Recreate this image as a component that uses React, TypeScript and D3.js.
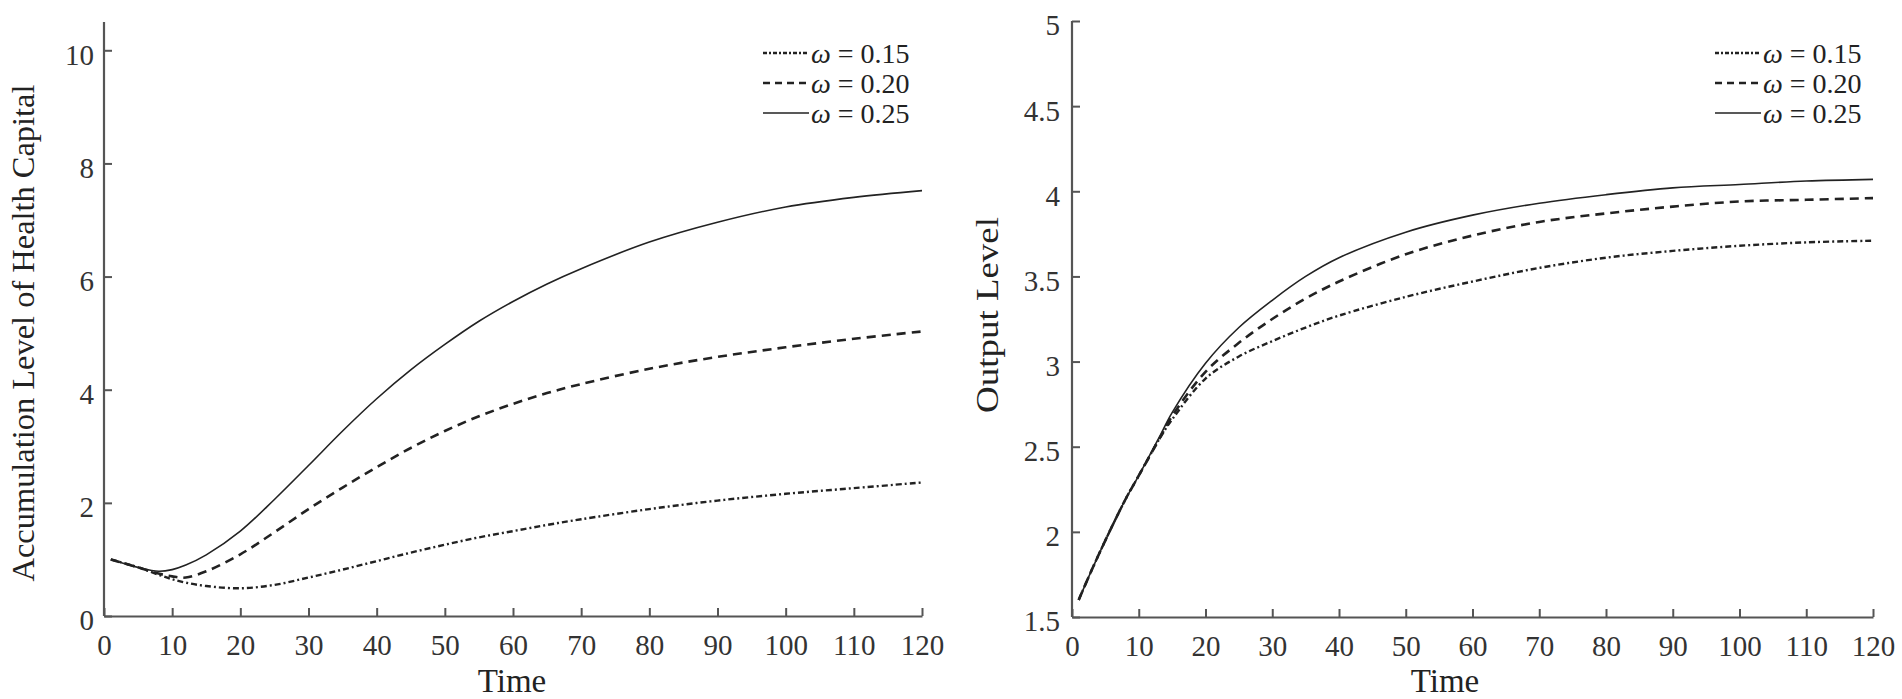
import React, { useEffect, useRef } from "react";
import * as d3 from "d3";

// left panel: accumulation level of health capital
const leftTime = [1, 5, 8, 10, 12, 15, 20, 25, 30, 35, 40, 45, 50, 55, 60, 65, 70, 80, 90, 100, 110, 120];
const leftW15 = [1.0, 0.86, 0.73, 0.65, 0.59, 0.53, 0.49, 0.55, 0.68, 0.82, 0.97, 1.12, 1.26, 1.39, 1.5, 1.61, 1.71, 1.89, 2.04, 2.16, 2.26, 2.36];
const leftW20 = [1.0, 0.86, 0.75, 0.7, 0.68, 0.79, 1.09, 1.48, 1.89, 2.27, 2.63, 2.97, 3.27, 3.53, 3.75, 3.94, 4.1, 4.37, 4.58, 4.75, 4.9, 5.03];
const leftW25 = [1.0, 0.86, 0.79, 0.82, 0.9, 1.08, 1.5, 2.06, 2.66, 3.27, 3.84, 4.35, 4.8, 5.21, 5.56, 5.87, 6.14, 6.61, 6.96, 7.23, 7.4, 7.52];

// right panel: output level
const rightTime = [1, 3, 5, 8, 10, 13, 15, 20, 25, 30, 35, 40, 50, 60, 70, 80, 90, 100, 110, 120];
const rightW15 = [1.6, 1.78, 1.95, 2.19, 2.33, 2.54, 2.66, 2.9, 3.03, 3.12, 3.2, 3.27, 3.38, 3.47, 3.55, 3.61, 3.65, 3.68, 3.7, 3.71];
const rightW20 = [1.6, 1.78, 1.95, 2.19, 2.33, 2.54, 2.68, 2.94, 3.11, 3.25, 3.37, 3.47, 3.63, 3.74, 3.82, 3.87, 3.91, 3.94, 3.95, 3.96];
const rightW25 = [1.6, 1.78, 1.95, 2.19, 2.33, 2.55, 2.7, 2.99, 3.2, 3.36, 3.5, 3.61, 3.76, 3.86, 3.93, 3.98, 4.02, 4.04, 4.06, 4.07];

const xTicks = [0, 10, 20, 30, 40, 50, 60, 70, 80, 90, 100, 110, 120];
const leftYTicks = [0, 2, 4, 6, 8, 10];
const rightYTicks = [1.5, 2, 2.5, 3, 3.5, 4, 4.5, 5];
const legendLabels = ["ω = 0.15", "ω = 0.20", "ω = 0.25"];

const FONT = "'Liberation Serif', 'Times New Roman', serif";
const INK = "#222";
const AXIS = "#555";

const styles = [
  { dash: "6,3,2,3", width: 2.4 },
  { dash: "9,6", width: 2.6 },
  { dash: null, width: 1.6 },
];

interface Panel {
  left: number;
  right: number;
  top: number;
  bottom: number;
  yDomain: [number, number];
  yTicks: number[];
  yPad: number;
  time: number[];
  series: number[][];
  yLabel: string;
  yLabelX: number;
  yLabelY: number;
  yLabelLen: number;
  timeX: number;
  legendX: number;
}

const panels: Panel[] = [
  {
    left: 104, right: 922, top: 22, bottom: 616,
    yDomain: [0, 10.5], yTicks: leftYTicks, yPad: 10,
    time: leftTime, series: [leftW15, leftW20, leftW25],
    yLabel: "Accumulation Level of Health Capital",
    yLabelX: 34, yLabelY: 333, yLabelLen: 497,
    timeX: 512, legendX: 763,
  },
  {
    left: 1072, right: 1873, top: 21, bottom: 617,
    yDomain: [1.5, 5], yTicks: rightYTicks, yPad: 12,
    time: rightTime, series: [rightW15, rightW20, rightW25],
    yLabel: "Output Level",
    yLabelX: 998, yLabelY: 315, yLabelLen: 196,
    timeX: 1445, legendX: 1715,
  },
];

const App: React.FC = () => {
  const svgRef = useRef<SVGSVGElement | null>(null);

  useEffect(() => {
    const svg = d3.select(svgRef.current);
    svg.selectAll("*").remove();

    panels.forEach((p) => {
      const x = d3.scaleLinear().domain([0, 120]).range([p.left, p.right]);
      const y = d3.scaleLinear().domain(p.yDomain).range([p.bottom, p.top]);
      const g = svg.append("g").attr("font-family", FONT);

      // axes
      const xAxis = g
        .append("g")
        .attr("transform", `translate(0,${p.bottom})`)
        .call(d3.axisBottom(x).tickValues(xTicks).tickSize(-8).tickSizeOuter(0).tickPadding(18));
      const yAxis = g
        .append("g")
        .attr("transform", `translate(${p.left},0)`)
        .call(
          d3
            .axisLeft(y)
            .tickValues(p.yTicks)
            .tickFormat((d) => String(d))
            .tickSize(-8)
            .tickSizeOuter(0)
            .tickPadding(p.yPad)
        );
      [xAxis, yAxis].forEach((a) => {
        a.select(".domain").attr("stroke", AXIS).attr("stroke-width", 2.2);
        a.selectAll(".tick line").attr("stroke", AXIS).attr("stroke-width", 2);
        a.selectAll(".tick text")
          .attr("fill", "#333")
          .style("font-family", FONT)
          .style("font-size", "29px");
      });
      yAxis.selectAll(".tick text").attr("dy", "0.48em");
      // axis line runs up to top of range
      yAxis.select(".domain").attr("d", `M0,${p.bottom}V${p.top}`);

      // curves
      const line = d3
        .line<number>()
        .x((_, i) => x(p.time[i]))
        .y((d) => y(d))
        .curve(d3.curveCatmullRom.alpha(0.5));
      p.series.forEach((s, k) => {
        const path = g
          .append("path")
          .attr("d", line(s))
          .attr("fill", "none")
          .attr("stroke", INK)
          .attr("stroke-width", styles[k].width);
        if (styles[k].dash) path.attr("stroke-dasharray", styles[k].dash);
      });

      // labels
      g.append("text")
        .attr("x", p.timeX)
        .attr("y", 692)
        .attr("text-anchor", "middle")
        .attr("fill", "#222")
        .style("font-family", FONT)
        .style("font-size", "33px")
        .text("Time");
      g.append("text")
        .attr("transform", `translate(${p.yLabelX},${p.yLabelY}) rotate(-90)`)
        .attr("text-anchor", "middle")
        .attr("textLength", p.yLabelLen)
        .attr("lengthAdjust", "spacingAndGlyphs")
        .attr("fill", "#222")
        .style("font-family", FONT)
        .style("font-size", "32px")
        .text(p.yLabel);

      // legend
      legendLabels.forEach((lab, k) => {
        const cy = 53 + k * 30;
        const seg = g
          .append("line")
          .attr("x1", p.legendX)
          .attr("x2", p.legendX + 46)
          .attr("y1", cy)
          .attr("y2", cy)
          .attr("stroke", INK)
          .attr("stroke-width", styles[k].width);
        if (styles[k].dash) seg.attr("stroke-dasharray", k === 0 ? "4,2,2,2" : "7,5");
        const t = g
          .append("text")
          .attr("x", p.legendX + 48)
          .attr("y", cy + 10)
          .attr("fill", "#222")
          .style("font-family", FONT)
          .style("font-size", "28px");
        t.append("tspan").style("font-family", FONT).style("font-style", "italic").text(lab.slice(0, 1));
        t.append("tspan").style("font-family", FONT).text(lab.slice(1));
      });
    });
  }, []);

  return (
    <div style={{ position: "absolute", left: 0, top: 0, background: "#fff" }}>
      <svg ref={svgRef} width={1902} height={699}></svg>
    </div>
  );
};

export default App;
